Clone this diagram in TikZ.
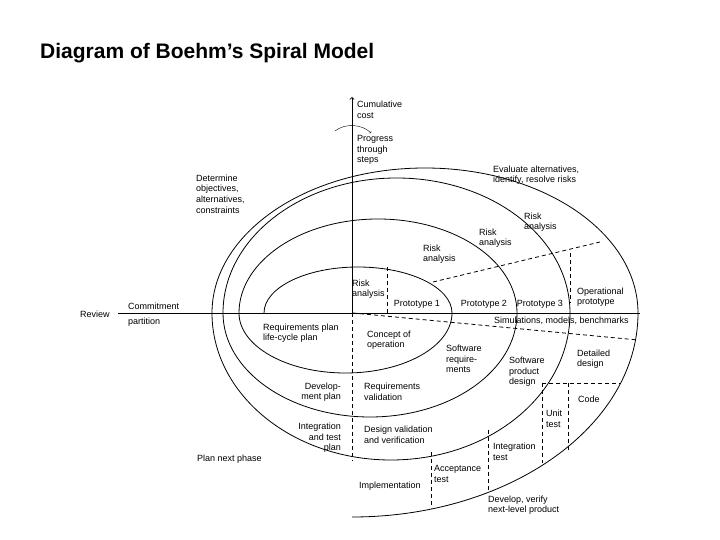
\documentclass[tikz,border=0pt]{standalone}
\usepackage{fontspec}
\setmainfont{Liberation Sans}
\usepackage{tikz}
\usetikzlibrary{positioning}

\begin{document}
\begin{tikzpicture}[
    x=0.03515cm, y=0.03515cm,
    lbl/.style={font=\fontsize{9}{10.6}\selectfont, align=left, inner sep=0pt, anchor=west},
    rlbl/.style={font=\fontsize{9}{10.6}\selectfont, align=right, inner sep=0pt, anchor=east},
    spiral/.style={thick},
    part/.style={thick, dash pattern=on 4pt off 3pt}
]
\useasboundingbox (0,0) rectangle (720,540);

% Title
\node[anchor=west, inner sep=0pt, font=\fontsize{21}{24}\selectfont\bfseries] (title) at (40,487) {Diagram of Boehm’s Spiral Model};

% Axes
\coordinate (axL) at (118,227);
\coordinate (axR) at (640,227);
\coordinate (axT) at (352,443);
\coordinate (axO) at (352,227);
\coordinate (axB) at (352,80);
\draw[thick] (axL) -- (axR);
\draw[thick, ->] (axO) -- (axT);
\draw[part] (axO) -- (axB);
\coordinate (rotA) at (335,409);
\coordinate (rotB) at (371,407);
\draw[->] (rotA) .. controls (345,417) and (362,416) .. (rotB);

% Spiral
\draw[spiral] (264,227)
    arc[start angle=180, end angle=0, x radius=94, y radius=46]
    arc[start angle=0, end angle=-180, x radius=106.5, y radius=60]
    arc[start angle=180, end angle=0, x radius=139, y radius=94]
    arc[start angle=0, end angle=-180, x radius=147, y radius=104]
    arc[start angle=180, end angle=0, x radius=173.5, y radius=135]
    arc[start angle=0, end angle=-180, x radius=179, y radius=147]
    arc[start angle=180, end angle=0, x radius=213, y radius=145]
    arc[start angle=0, end angle=-90, x radius=286, y radius=204];

% Partitions
\draw[part] (387,273) -- (387,227);
\draw[part] (433,258) -- (600,298);
\draw[part] (570,287) -- (570,237);
\draw[part] (353,227) -- (638,200);
\draw[part] (542,157) -- (620,157);
\draw[part] (542,157) -- (542,77);
\draw[part] (568,157) -- (568,88);
\draw[part] (488,110) -- (488,50);
\draw[part] (431,88) -- (431,32);

% Labels
\node[lbl] (cost) at (357,430) {Cumulative\\cost};
\node[lbl] (steps) at (357,390) {Progress\\through\\steps};
\node[lbl] (evaluate) at (493,365) {Evaluate alternatives,\\identify, resolve risks};
\node[lbl] (determine) at (196,346) {Determine\\objectives,\\alternatives,\\constraints};
\node[lbl] (risk4) at (524,318) {Risk\\analysis};
\node[lbl] (risk3) at (479,302) {Risk\\analysis};
\node[lbl] (risk2) at (423,286) {Risk\\analysis};
\node[lbl] (risk1) at (352,251) {Risk\\analysis};
\node[lbl, anchor=center] (proto1) at (417,236) {Prototype 1};
\node[lbl, anchor=center] (proto2) at (484,236) {Prototype 2};
\node[lbl, anchor=center] (proto3) at (540,236) {Prototype 3};
\node[lbl] (oproto) at (577,243) {Operational\\prototype};
\node[lbl] (commit) at (128,234) {Commitment};
\node[lbl] (partition) at (128,218) {partition};
\node[lbl] (review) at (80,226) {Review};
\node[lbl] (sims) at (494,219) {Simulations, models, benchmarks};
\node[lbl] (reqplan) at (263,207) {Requirements plan\\life-cycle plan};
\node[lbl] (concept) at (367,200) {Concept of\\operation};
\node[lbl] (swreq) at (446,181) {Software\\require-\\ments};
\node[lbl] (swdesign) at (509,168) {Software\\product\\design};
\node[lbl] (detdesign) at (577,181) {Detailed\\design};
\node[lbl] (code) at (578,141) {Code};
\node[rlbl] (devplan) at (341,148) {Develop-\\ment plan};
\node[lbl] (reqval) at (364,148) {Requirements\\validation};
\node[lbl] (unittest) at (546,121) {Unit\\test};
\node[rlbl] (itplan) at (341,102) {Integration\\and test\\plan};
\node[lbl] (desval) at (364,105) {Design validation\\and verification};
\node[lbl] (inttest) at (493,88) {Integration\\test};
\node[lbl] (nextphase) at (197,81) {Plan next phase};
\node[lbl] (acctest) at (434,66) {Acceptance\\test};
\node[lbl] (impl) at (359,54) {Implementation};
\node[lbl] (develop) at (488,35) {Develop, verify\\next-level product};

\end{tikzpicture}
\end{document}
